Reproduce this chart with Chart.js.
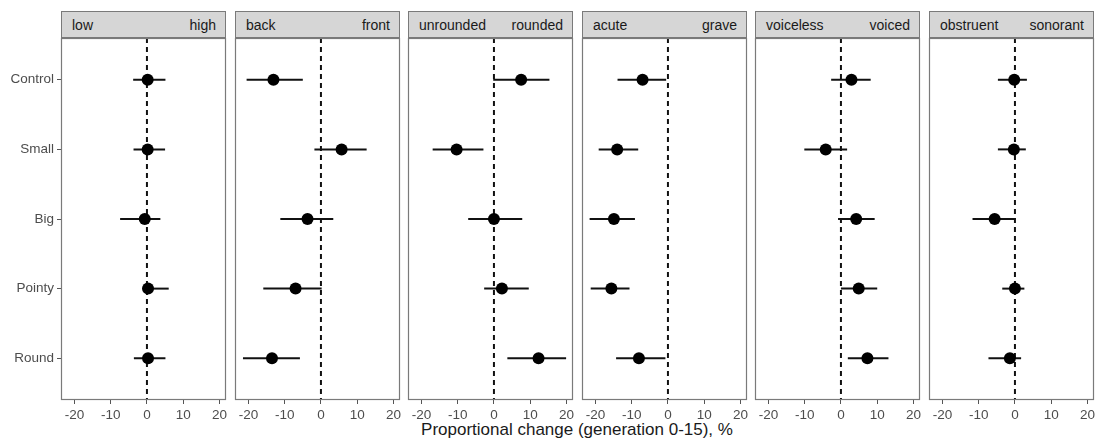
<!DOCTYPE html>
<html>
<head>
<meta charset="utf-8">
<script src="https://cdn.jsdelivr.net/npm/chart.js@4/dist/chart.umd.min.js"></script>
<style>
  html, body { margin: 0; padding: 0; background: #fff; }
  body { width: 1095px; height: 440px; position: relative; overflow: hidden; font-family: "Liberation Sans", Arial, sans-serif; }
  canvas { position: absolute; top: 0; }
  .strip {
    position: absolute; top: 11px; height: 27px; box-sizing: border-box;
    border: 1px solid #7a7a7a; background: #d6d6d6;
    display: flex; justify-content: space-between; align-items: center;
    padding: 0 9px 0 10px; font-size: 14px; color: #1a1a1a;
  }
  #xtitle {
    position: absolute; top: 420px; left: 0; width: 1154px; text-align: center;
    font-size: 17px; color: #1a1a1a;
  }
</style>
</head>
<body>
<div id="xtitle">Proportional change (generation 0-15), %</div>
<script>
// カテゴリ（上から順）
const categories = ['Control', 'Small', 'Big', 'Pointy', 'Round'];
// 各パネルの左右ラベル
const leftLabels = ['low', 'back', 'unrounded', 'acute', 'voiceless', 'obstruent'];
const rightLabels = ['high', 'front', 'rounded', 'grave', 'voiced', 'sonorant'];
// x軸の目盛り
const xTicks = [-20, -10, 0, 10, 20];

// 推定値（パネルごと、カテゴリ順）
const estimates = [
    [0.2, 0.2, -0.6, 0.3, 0.3],
    [-13.1, 5.7, -3.7, -7.0, -13.5],
    [7.5, -10.3, 0.0, 2.2, 12.3],
    [-7.0, -14.0, -14.9, -15.6, -8.0],
    [2.9, -4.2, 4.2, 4.9, 7.3],
    [-0.2, -0.3, -5.6, 0.0, -1.4]
];
// 下限
const lower = [
    [-3.8, -3.7, -7.4, -1.2, -3.6],
    [-20.5, -1.8, -11.2, -15.9, -21.5],
    [-0.2, -16.9, -7.1, -2.7, 3.7],
    [-13.9, -19.1, -21.6, -21.3, -14.3],
    [-2.7, -10.1, -0.8, 0.0, 1.9],
    [-4.7, -4.7, -11.7, -3.5, -7.3]
];
// 上限
const upper = [
    [5.1, 5.0, 3.7, 6.0, 5.1],
    [-5.0, 12.6, 3.4, 0.2, -5.8],
    [15.3, -2.9, 7.8, 9.6, 19.9],
    [-0.5, -8.2, -9.1, -10.6, -0.7],
    [8.2, 1.7, 9.3, 10.0, 13.1],
    [3.3, 3.0, 0.2, 2.6, 1.7]
];

const FONT = '"Liberation Sans", Arial, sans-serif';
const PANEL_W = 165;
const PAD = 20;

// パネル枠を描く
const panelBorder = {
    id: 'panelBorder',
    afterDatasetsDraw(chart) {
        const { ctx, chartArea: a } = chart;
        ctx.save();
        ctx.strokeStyle = '#7a7a7a';
        ctx.lineWidth = 1.2;
        ctx.strokeRect(a.left + 0.5, a.top + 0.5, a.right - a.left - 1, a.bottom - a.top - 1);
        ctx.restore();
    }
};

function createPanel(p) {
    const left = Math.round(61 + p * 173.6);
    const first = p === 0;

    // ストリップ
    const strip = document.createElement('div');
    strip.className = 'strip';
    strip.style.left = left + 'px';
    strip.style.width = PANEL_W + 'px';
    strip.innerHTML = `<span>${leftLabels[p]}</span><span>${rightLabels[p]}</span>`;
    document.body.appendChild(strip);

    const canvas = document.createElement('canvas');
    const cLeft = first ? 0 : left - PAD;
    const cWidth = first ? left + PANEL_W + PAD : PANEL_W + PAD * 2;
    canvas.width = cWidth;
    canvas.height = 440;
    canvas.style.left = cLeft + 'px';
    canvas.style.width = cWidth + 'px';
    canvas.style.height = '440px';
    document.body.appendChild(canvas);

    const points = categories.map((c, i) => ({ x: estimates[p][i], y: i + 1 }));
    const bars = categories.map((c, i) => ({
        type: 'line',
        data: [{ x: lower[p][i], y: i + 1 }, { x: upper[p][i], y: i + 1 }],
        borderColor: '#111',
        borderWidth: 2,
        pointRadius: 0
    }));

    const yScale = {
        type: 'linear',
        display: first,
        reverse: true,
        min: 0.4,
        max: 5.6,
        afterBuildTicks: s => { s.ticks = categories.map((c, i) => ({ value: i + 1 })); },
        border: { display: false },
        grid: { drawOnChartArea: false, drawTicks: true, tickLength: 4, color: '#555' },
        ticks: {
            padding: 3,
            color: '#4d4d4d',
            font: { family: FONT, size: 13.5 },
            callback: v => categories[v - 1]
        }
    };
    if (first) {
        yScale.afterFit = s => { s.width = left; };
    }

    new Chart(canvas.getContext('2d'), {
        type: 'scatter',
        data: {
            datasets: [
                { data: points, pointRadius: 6, backgroundColor: '#000', borderWidth: 0 },
                ...bars,
                {
                    type: 'line',
                    data: [{ x: 0, y: 0.4 }, { x: 0, y: 5.6 }],
                    borderColor: '#111',
                    borderWidth: 2,
                    borderDash: [5, 4],
                    pointRadius: 0
                }
            ]
        },
        options: {
            responsive: false,
            animation: false,
            events: [],
            layout: { padding: { left: first ? 0 : PAD, right: PAD, top: 38, bottom: 0 } },
            plugins: { legend: { display: false }, tooltip: { enabled: false } },
            scales: {
                x: {
                    type: 'linear',
                    min: -23.7,
                    max: 21.8,
                    afterBuildTicks: s => { s.ticks = xTicks.map(v => ({ value: v })); },
                    afterFit: s => { s.height = 40; },
                    border: { display: false },
                    grid: { drawOnChartArea: false, drawTicks: true, tickLength: 4, color: '#555' },
                    ticks: { padding: 3, color: '#4d4d4d', font: { family: FONT, size: 13.5 }, maxRotation: 0 }
                },
                y: yScale
            }
        },
        plugins: [panelBorder]
    });
}

leftLabels.forEach((l, p) => createPanel(p));
</script>
</body>
</html>
